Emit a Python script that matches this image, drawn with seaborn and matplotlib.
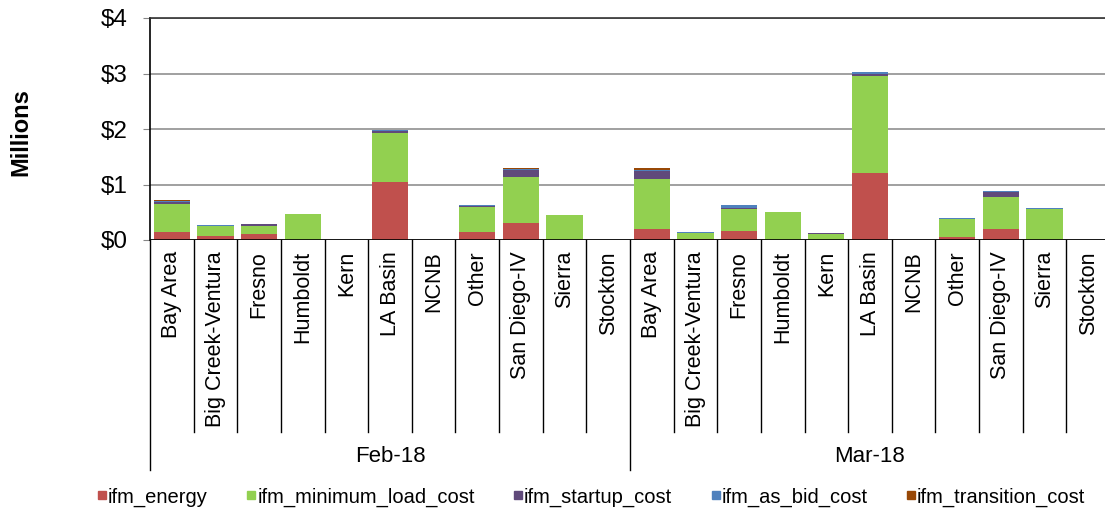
import matplotlib
matplotlib.use("Agg")
import matplotlib.pyplot as plt
import matplotlib.transforms as mtransforms
from matplotlib.lines import Line2D
import pandas as pd
import seaborn as sns

# ---------------- data (millions of $) ----------------
months = ["Feb-18", "Mar-18"]
regions = ["Bay Area", "Big Creek-Ventura", "Fresno", "Humboldt", "Kern", "LA Basin",
           "NCNB", "Other", "San Diego-IV", "Sierra", "Stockton"]

components = ["ifm_energy", "ifm_minimum_load_cost", "ifm_startup_cost",
              "ifm_as_bid_cost", "ifm_transition_cost"]
colors = ["#C0504D", "#92D050", "#604A7B", "#4F81BD", "#984807"]

feb_energy     = [0.15, 0.07, 0.11, 0.00, 0.0, 1.05, 0.0, 0.15, 0.30, 0.00, 0.0]
feb_min_load   = [0.50, 0.19, 0.145, 0.46, 0.0, 0.88, 0.0, 0.45, 0.83, 0.445, 0.0]
feb_startup    = [0.04, 0.00, 0.025, 0.00, 0.0, 0.03, 0.0, 0.01, 0.13, 0.00, 0.0]
feb_as_bid     = [0.01, 0.015, 0.005, 0.005, 0.0, 0.015, 0.0, 0.02, 0.015, 0.005, 0.0]
feb_transition = [0.02, 0.00, 0.00, 0.00, 0.0, 0.00, 0.0, 0.00, 0.02, 0.00, 0.0]

mar_energy     = [0.20, 0.02, 0.17, 0.005, 0.005, 1.20, 0.0, 0.06, 0.19, 0.00, 0.0]
mar_min_load   = [0.90, 0.11, 0.39, 0.495, 0.10, 1.76, 0.0, 0.32, 0.59, 0.565, 0.0]
mar_startup    = [0.135, 0.00, 0.02, 0.00, 0.015, 0.04, 0.0, 0.00, 0.09, 0.00, 0.0]
mar_as_bid     = [0.03, 0.01, 0.05, 0.00, 0.00, 0.02, 0.0, 0.015, 0.01, 0.005, 0.0]
mar_transition = [0.03, 0.00, 0.00, 0.00, 0.00, 0.015, 0.0, 0.00, 0.00, 0.00, 0.0]

feb = [feb_energy, feb_min_load, feb_startup, feb_as_bid, feb_transition]
mar = [mar_energy, mar_min_load, mar_startup, mar_as_bid, mar_transition]

# ---------------- build long table with cumulative heights ----------------
rows = []
for month, series in zip(months, [feb, mar]):
    for i, reg in enumerate(regions):
        cum = 0.0
        for comp, vals in zip(components, series):
            cum += vals[i]
            rows.append({"slot": month + "|" + reg, "component": comp, "cum": cum})
df = pd.DataFrame(rows)
order = [m + "|" + r for m in months for r in regions]

plt.rcParams["font.family"] = ["Liberation Sans", "DejaVu Sans"]

fig = plt.figure(figsize=(11.05, 5.14), dpi=100)
W, H = 1105.0, 514.0
ax = fig.add_axes([150 / W, (H - 240) / H, (1110 - 150) / W, (240 - 18) / H])

# draw the tallest stack first, lower layers painted over it
for comp, col in reversed(list(zip(components, colors))):
    sub = df[df["component"] == comp]
    sns.barplot(data=sub, x="slot", y="cum", order=order, color=col, saturation=1,
                width=0.83, errorbar=None, linewidth=0, ax=ax)

ax.set_ylim(0, 4)
ax.set_xlim(-0.5, len(order) - 0.5)
ax.set_yticks([0, 1, 2, 3, 4])
ax.set_yticklabels(["$0", "$1", "$2", "$3", "$4"], fontsize=17.5)
ax.yaxis.grid(True, color="#868686", linewidth=1.1)
ax.set_axisbelow(True)
for s in ["top", "right", "bottom"]:
    ax.spines[s].set_visible(False)
ax.spines["left"].set_color("black")
ax.spines["left"].set_linewidth(1.2)
ax.axhline(0, color="black", linewidth=1.2, zorder=5)
ax.axhline(4, color="#333333", linewidth=1.2, zorder=5, clip_on=False)
ax.tick_params(axis="y", length=5, color="#868686", pad=11)

ax.set_xticks(range(len(order)))
ax.set_xticklabels(regions * 2, rotation=90, fontsize=15.5, va="top")
ax.tick_params(axis="x", length=0, pad=8)
ax.set_xlabel("")
ax.set_ylabel("")
fig.text(21 / W, (H - 132) / H, "Millions", rotation=90, ha="center", va="center",
         fontsize=17, fontweight="bold")

# separators below the axis
trans = mtransforms.blended_transform_factory(ax.transData, ax.transAxes)
px = 1.0 / (240 - 18)
for b in range(len(order) + 1):
    x = b - 0.5
    outer = b % len(regions) == 0
    y_end = -(470 - 240) * px if outer else -(432 - 240) * px
    ax.plot([x, x], [0, y_end], transform=trans, color="black", linewidth=1.0,
            clip_on=False, zorder=6)

for k, m in enumerate(months):
    xc = k * len(regions) + (len(regions) - 1) / 2
    ax.text(xc, -(457 - 240) * px, m, transform=trans, ha="center", va="center",
            fontsize=16)

handles = [Line2D([], [], marker="s", linestyle="none", markersize=6,
                  markerfacecolor=c, markeredgecolor=c) for c in colors]
fig.legend(handles, components, loc="center", bbox_to_anchor=(0.535, (H - 497) / H),
           ncol=5, frameon=False, fontsize=14.5, handletextpad=0.05,
           columnspacing=1.9, handlelength=0.5)

fig.savefig("out.png", dpi=100)
